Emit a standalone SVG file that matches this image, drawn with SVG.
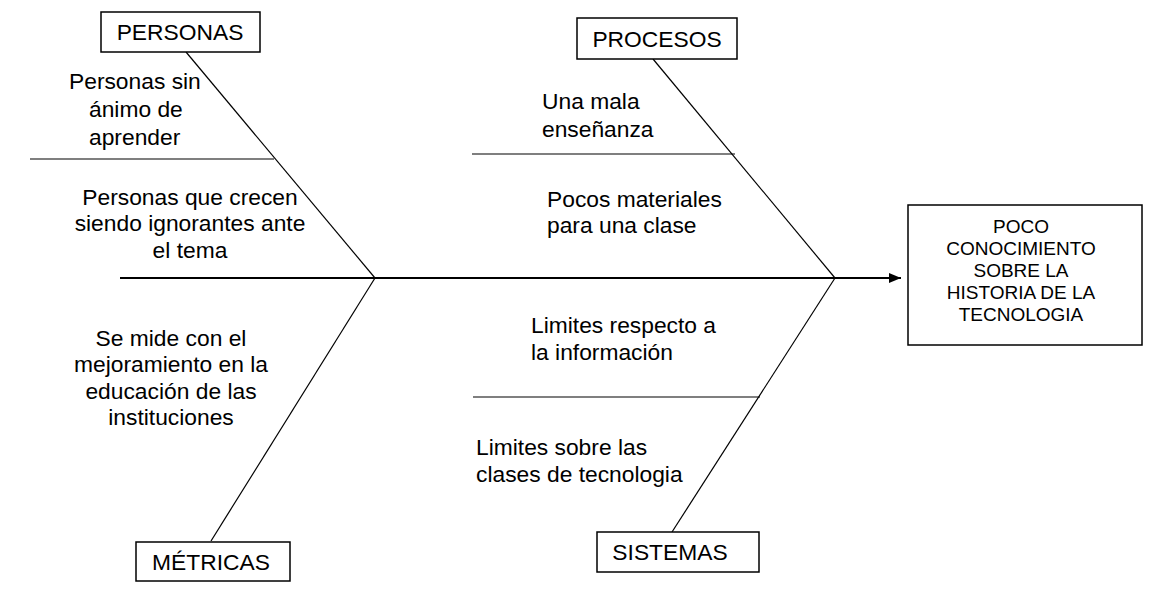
<svg xmlns="http://www.w3.org/2000/svg" width="1154" height="611" viewBox="0 0 1154 611">
<defs>
<style>
.t{font-family:"Liberation Sans",Arial,sans-serif;font-size:22.8px;fill:#000}
.e{font-family:"Liberation Sans",Arial,sans-serif;font-size:19px;fill:#000;text-anchor:middle}
.m{text-anchor:middle}
.b{fill:#fff;stroke:#000;stroke-width:1.5}
.l{stroke:#000;stroke-width:1.2;fill:none}
</style>
<marker id="ah" markerWidth="12" markerHeight="10" refX="12" refY="5" orient="auto" markerUnits="userSpaceOnUse">
<path d="M0,0 L12,5 L0,10 Z" fill="#000"/>
</marker>
</defs>
<rect width="1154" height="611" fill="#fff"/>
<g id="connectors">
<line x1="120" y1="278" x2="901" y2="278" stroke="#000" stroke-width="2" marker-end="url(#ah)"/>
<line class="l" x1="186" y1="52" x2="375" y2="278"/>
<line class="l" x1="211" y1="541" x2="375" y2="278"/>
<line class="l" x1="653" y1="59" x2="835" y2="278"/>
<line class="l" x1="672" y1="532" x2="835" y2="278"/>
<line class="l" x1="30" y1="159" x2="274" y2="159"/>
<line class="l" x1="472" y1="154" x2="735" y2="154"/>
<line class="l" x1="473" y1="397" x2="760" y2="397"/>
</g>
<g id="personas">
<rect class="b" x="101" y="12" width="159" height="40"/>
<text class="t m" x="180" y="40">PERSONAS</text>
</g>
<g id="procesos">
<rect class="b" x="577" y="18" width="160" height="41"/>
<text class="t m" x="657" y="47">PROCESOS</text>
</g>
<g id="metricas">
<rect class="b" x="136" y="542" width="154" height="39"/>
<text class="t m" x="211" y="570">MÉTRICAS</text>
</g>
<g id="sistemas">
<rect class="b" x="597" y="532" width="162" height="40"/>
<text class="t m" x="670" y="560">SISTEMAS</text>
</g>
<g id="efecto">
<rect class="b" x="908" y="205" width="234" height="140" stroke-width="2"/>
<text class="e" x="1021" y="233">POCO</text>
<text class="e" x="1021" y="255">CONOCIMIENTO</text>
<text class="e" x="1021" y="277">SOBRE LA</text>
<text class="e" x="1021" y="299">HISTORIA DE LA</text>
<text class="e" x="1021" y="321">TECNOLOGIA</text>
</g>
<g id="causa-personas-1">
<text class="t" x="69" y="89">Personas sin</text>
<text class="t" x="89" y="117">ánimo de</text>
<text class="t" x="89" y="145">aprender</text>
</g>
<g id="causa-personas-2">
<text class="t m" x="190" y="205">Personas que crecen</text>
<text class="t m" x="190" y="231">siendo ignorantes ante</text>
<text class="t m" x="190" y="258">el tema</text>
</g>
<g id="causa-metricas">
<text class="t m" x="171" y="346">Se mide con el</text>
<text class="t m" x="171" y="372">mejoramiento en la</text>
<text class="t m" x="171" y="399">educación de las</text>
<text class="t m" x="171" y="425">instituciones</text>
</g>
<g id="causa-procesos-1">
<text class="t" x="542" y="109">Una mala</text>
<text class="t" x="542" y="137">enseñanza</text>
</g>
<g id="causa-procesos-2">
<text class="t" x="547" y="207">Pocos materiales</text>
<text class="t" x="547" y="233">para una clase</text>
</g>
<g id="causa-sistemas-1">
<text class="t" x="531" y="333">Limites respecto a</text>
<text class="t" x="531" y="360">la información</text>
</g>
<g id="causa-sistemas-2">
<text class="t" x="476" y="455">Limites sobre las</text>
<text class="t" x="476" y="482">clases de tecnologia</text>
</g>
</svg>
